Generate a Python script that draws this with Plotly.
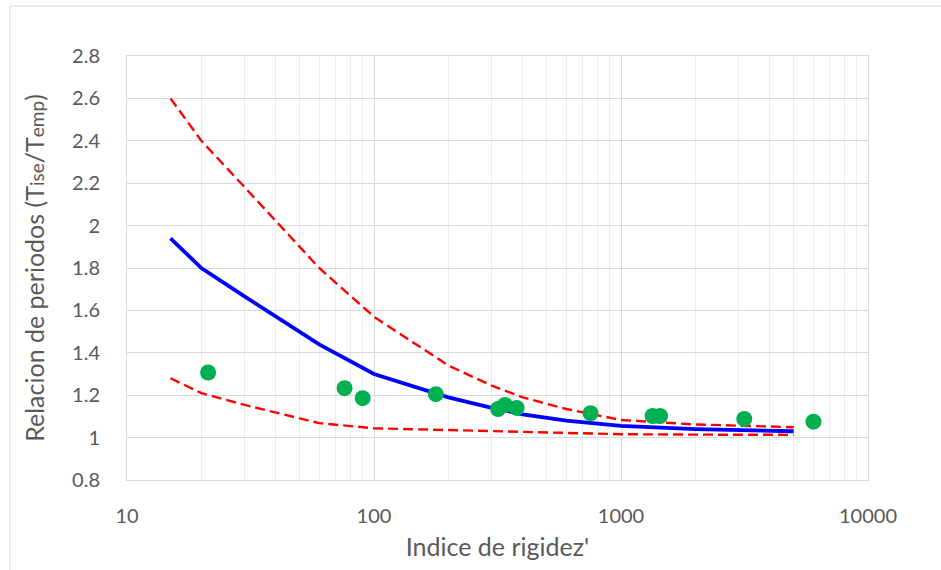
import plotly.graph_objects as go

# Stiffness index vs. period ratio
curve_x = [15, 20, 30, 60, 100, 200, 300, 400, 600, 1000, 2000, 3000, 5000]
mean_ratio = [1.94, 1.80, 1.665, 1.44, 1.30, 1.19, 1.14, 1.11, 1.08, 1.055, 1.04, 1.035, 1.03]
upper_ratio = [2.60, 2.40, 2.18, 1.80, 1.57, 1.34, 1.245, 1.19, 1.135, 1.083, 1.062, 1.055, 1.049]
lower_ratio = [1.28, 1.21, 1.154, 1.068, 1.044, 1.035, 1.03, 1.027, 1.022, 1.016, 1.014, 1.013, 1.013]

obs_x = [21.3, 76, 90, 178, 318, 339, 378, 753, 1343, 1439, 3156, 6014]
obs_ratio = [1.307, 1.233, 1.186, 1.205, 1.135, 1.154, 1.14, 1.115, 1.102, 1.102, 1.088, 1.075]

y_ticks = [0.8, 1.0, 1.2, 1.4, 1.6, 1.8, 2.0, 2.2, 2.4, 2.6, 2.8]
y_tick_text = ["0.8", "1", "1.2", "1.4", "1.6", "1.8", "2", "2.2", "2.4", "2.6", "2.8"]
x_ticks = [10, 100, 1000, 10000]
x_tick_text = ["10", "100", "1000", "10000"]

FONT = "Lato, 'Open Sans', sans-serif"
TEXT = "#595959"

fig = go.Figure()
fig.add_trace(go.Scatter(x=curve_x, y=upper_ratio, mode="lines",
                         line=dict(color="#ff0000", width=2.4, dash="10px,5px"), showlegend=False))
fig.add_trace(go.Scatter(x=curve_x, y=lower_ratio, mode="lines",
                         line=dict(color="#ff0000", width=2.4, dash="10px,5px"), showlegend=False))
fig.add_trace(go.Scatter(x=curve_x, y=mean_ratio, mode="lines",
                         line=dict(color="#0000ff", width=3.8), showlegend=False))
fig.add_trace(go.Scatter(x=obs_x, y=obs_ratio, mode="markers",
                         marker=dict(color="#00b050", size=16, line=dict(width=0)),
                         showlegend=False))

fig.update_layout(
    width=941, height=570,
    margin=dict(l=127, r=73, t=56, b=90),
    paper_bgcolor="white", plot_bgcolor="white",
    font=dict(family=FONT, color=TEXT, size=20),
    xaxis=dict(
        type="log", range=[1, 4],
        tickvals=x_ticks, ticktext=x_tick_text,
        showgrid=True, gridcolor="#d9d9d9", gridwidth=1.3,
        minor=dict(showgrid=True, gridcolor="#ececec", gridwidth=1, dtick="D1", ticks=""),
        showline=True, linecolor="#d9d9d9", linewidth=1, mirror=True,
        ticks="", ticklabelstandoff=18, zeroline=False,
        title=dict(text="Indice de rigidez'", font=dict(size=25, color=TEXT), standoff=12),
    ),
    yaxis=dict(
        range=[0.8, 2.8],
        tickvals=y_ticks, ticktext=y_tick_text,
        showgrid=True, gridcolor="#d9d9d9", gridwidth=1.3,
        showline=True, linecolor="#d9d9d9", linewidth=1, mirror=True,
        ticks="", ticklabelstandoff=22, zeroline=False,
        title=dict(text="Relacion de periodos (T<span style='font-size:19px'>ise</span>/T<span style='font-size:19px'>emp</span>)",
                   font=dict(size=25, color=TEXT), standoff=20),
    ),
    shapes=[dict(type="rect", xref="paper", yref="paper",
                 x0=-0.158, x1=1.2, y0=-0.3, y1=1.118,
                 line=dict(color="#d9d9d9", width=1), layer="below")],
)

fig.write_html("out.html")
